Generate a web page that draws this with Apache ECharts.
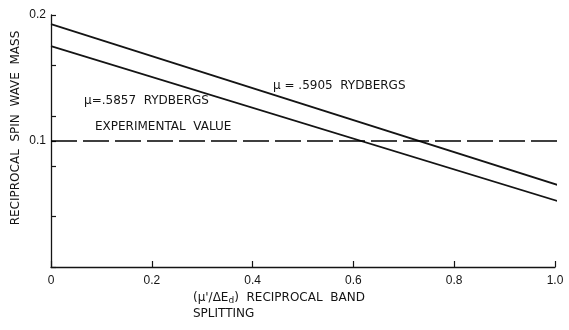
<!DOCTYPE html>
<html>
<head>
<meta charset="utf-8">
<script src="https://cdn.jsdelivr.net/npm/echarts@6/dist/echarts.min.js"></script>
<style>
  html, body { margin: 0; padding: 0; background: #fff; }
  #chart { width: 569px; height: 330px; }
</style>
</head>
<body>
<div id="chart"></div>
<script>
// Reciprocal spin wave mass versus reciprocal band splitting
const xEnds = [0, 1.01];
const mu5905 = [0.1928, 0.0645];
const mu5857 = [0.1753, 0.0518];
const experimental = [0.1, 0.1];
const xTicks = [0, 0.2, 0.4, 0.6, 0.8, 1.0];
const yTickValues = [0, 0.04, 0.08, 0.1, 0.12, 0.16, 0.2];
const yLabelValues = [0.1, 0.2];

const ink = '#141414';
const font = 'Liberation Sans';
const textFont = '12px "DejaVu Sans"';

const pairs = (xs, ys) => xs.map((x, i) => [x, ys[i]]);

const chart = echarts.init(document.getElementById('chart'), null, { renderer: 'canvas' });

chart.setOption({
  backgroundColor: '#ffffff',
  animation: false,
  grid: { left: 51, right: 14, top: 15, bottom: 63, containLabel: false },
  xAxis: {
    type: 'value',
    min: 0,
    max: 1.0,
    interval: 0.2,
    axisLine: { show: true, lineStyle: { color: ink, width: 1.3 } },
    axisTick: { show: true, inside: true, length: 6, lineStyle: { color: ink, width: 1.2 } },
    axisLabel: {
      color: ink, fontFamily: font, fontSize: 12, margin: 8,
      customValues: xTicks,
      formatter: v => (v === 0 ? '0' : v.toFixed(1))
    },
    splitLine: { show: false }
  },
  yAxis: {
    type: 'value',
    min: 0,
    max: 0.2,
    axisLine: { show: true, lineStyle: { color: ink, width: 1.3 } },
    axisTick: { show: true, inside: true, length: 5, customValues: yTickValues, lineStyle: { color: ink, width: 1.2 } },
    axisLabel: {
      color: ink, fontFamily: font, fontSize: 12, margin: 5,
      customValues: yLabelValues,
      formatter: v => v.toFixed(1)
    },
    splitLine: { show: false }
  },
  series: [
    {
      name: 'μ = .5905 RYDBERGS',
      type: 'line',
      data: pairs(xEnds, mu5905),
      clip: false,
      symbol: 'none',
      lineStyle: { color: ink, width: 1.7 }
    },
    {
      name: 'μ=.5857 RYDBERGS',
      type: 'line',
      data: pairs(xEnds, mu5857),
      clip: false,
      symbol: 'none',
      lineStyle: { color: ink, width: 1.7 }
    },
    {
      name: 'EXPERIMENTAL VALUE',
      type: 'line',
      data: pairs(xEnds, experimental),
      clip: false,
      symbol: 'none',
      lineStyle: { color: '#000', width: 1.4, type: [26, 6] }
    }
  ],
  graphic: [
    {
      type: 'text', x: 16, y: 128, rotation: Math.PI / 2,
      style: {
        text: 'RECIPROCAL  SPIN  WAVE  MASS', fill: ink, font: textFont,
        textAlign: 'center', textVerticalAlign: 'middle'
      }
    },
    {
      type: 'text', x: 273, y: 86,
      style: { text: 'μ = .5905  RYDBERGS', fill: ink, font: textFont, textVerticalAlign: 'middle' }
    },
    {
      type: 'text', x: 84, y: 101,
      style: { text: 'μ=.5857  RYDBERGS', fill: ink, font: textFont, textVerticalAlign: 'middle' }
    },
    {
      type: 'text', x: 95, y: 127,
      style: { text: 'EXPERIMENTAL  VALUE', fill: ink, font: textFont, textVerticalAlign: 'middle' }
    },
    {
      type: 'text', x: 193, y: 298,
      style: {
        text: "{t|(μ'/ΔE}{s|d}{t|)  RECIPROCAL  BAND}",
        textVerticalAlign: 'middle',
        rich: {
          t: { fill: ink, font: textFont },
          s: { fill: ink, font: '9px "DejaVu Sans"', padding: [5, 0, 0, 0] }
        }
      }
    },
    {
      type: 'text', x: 193, y: 314,
      style: { text: 'SPLITTING', fill: ink, font: textFont, textVerticalAlign: 'middle' }
    }
  ]
});
</script>
</body>
</html>
